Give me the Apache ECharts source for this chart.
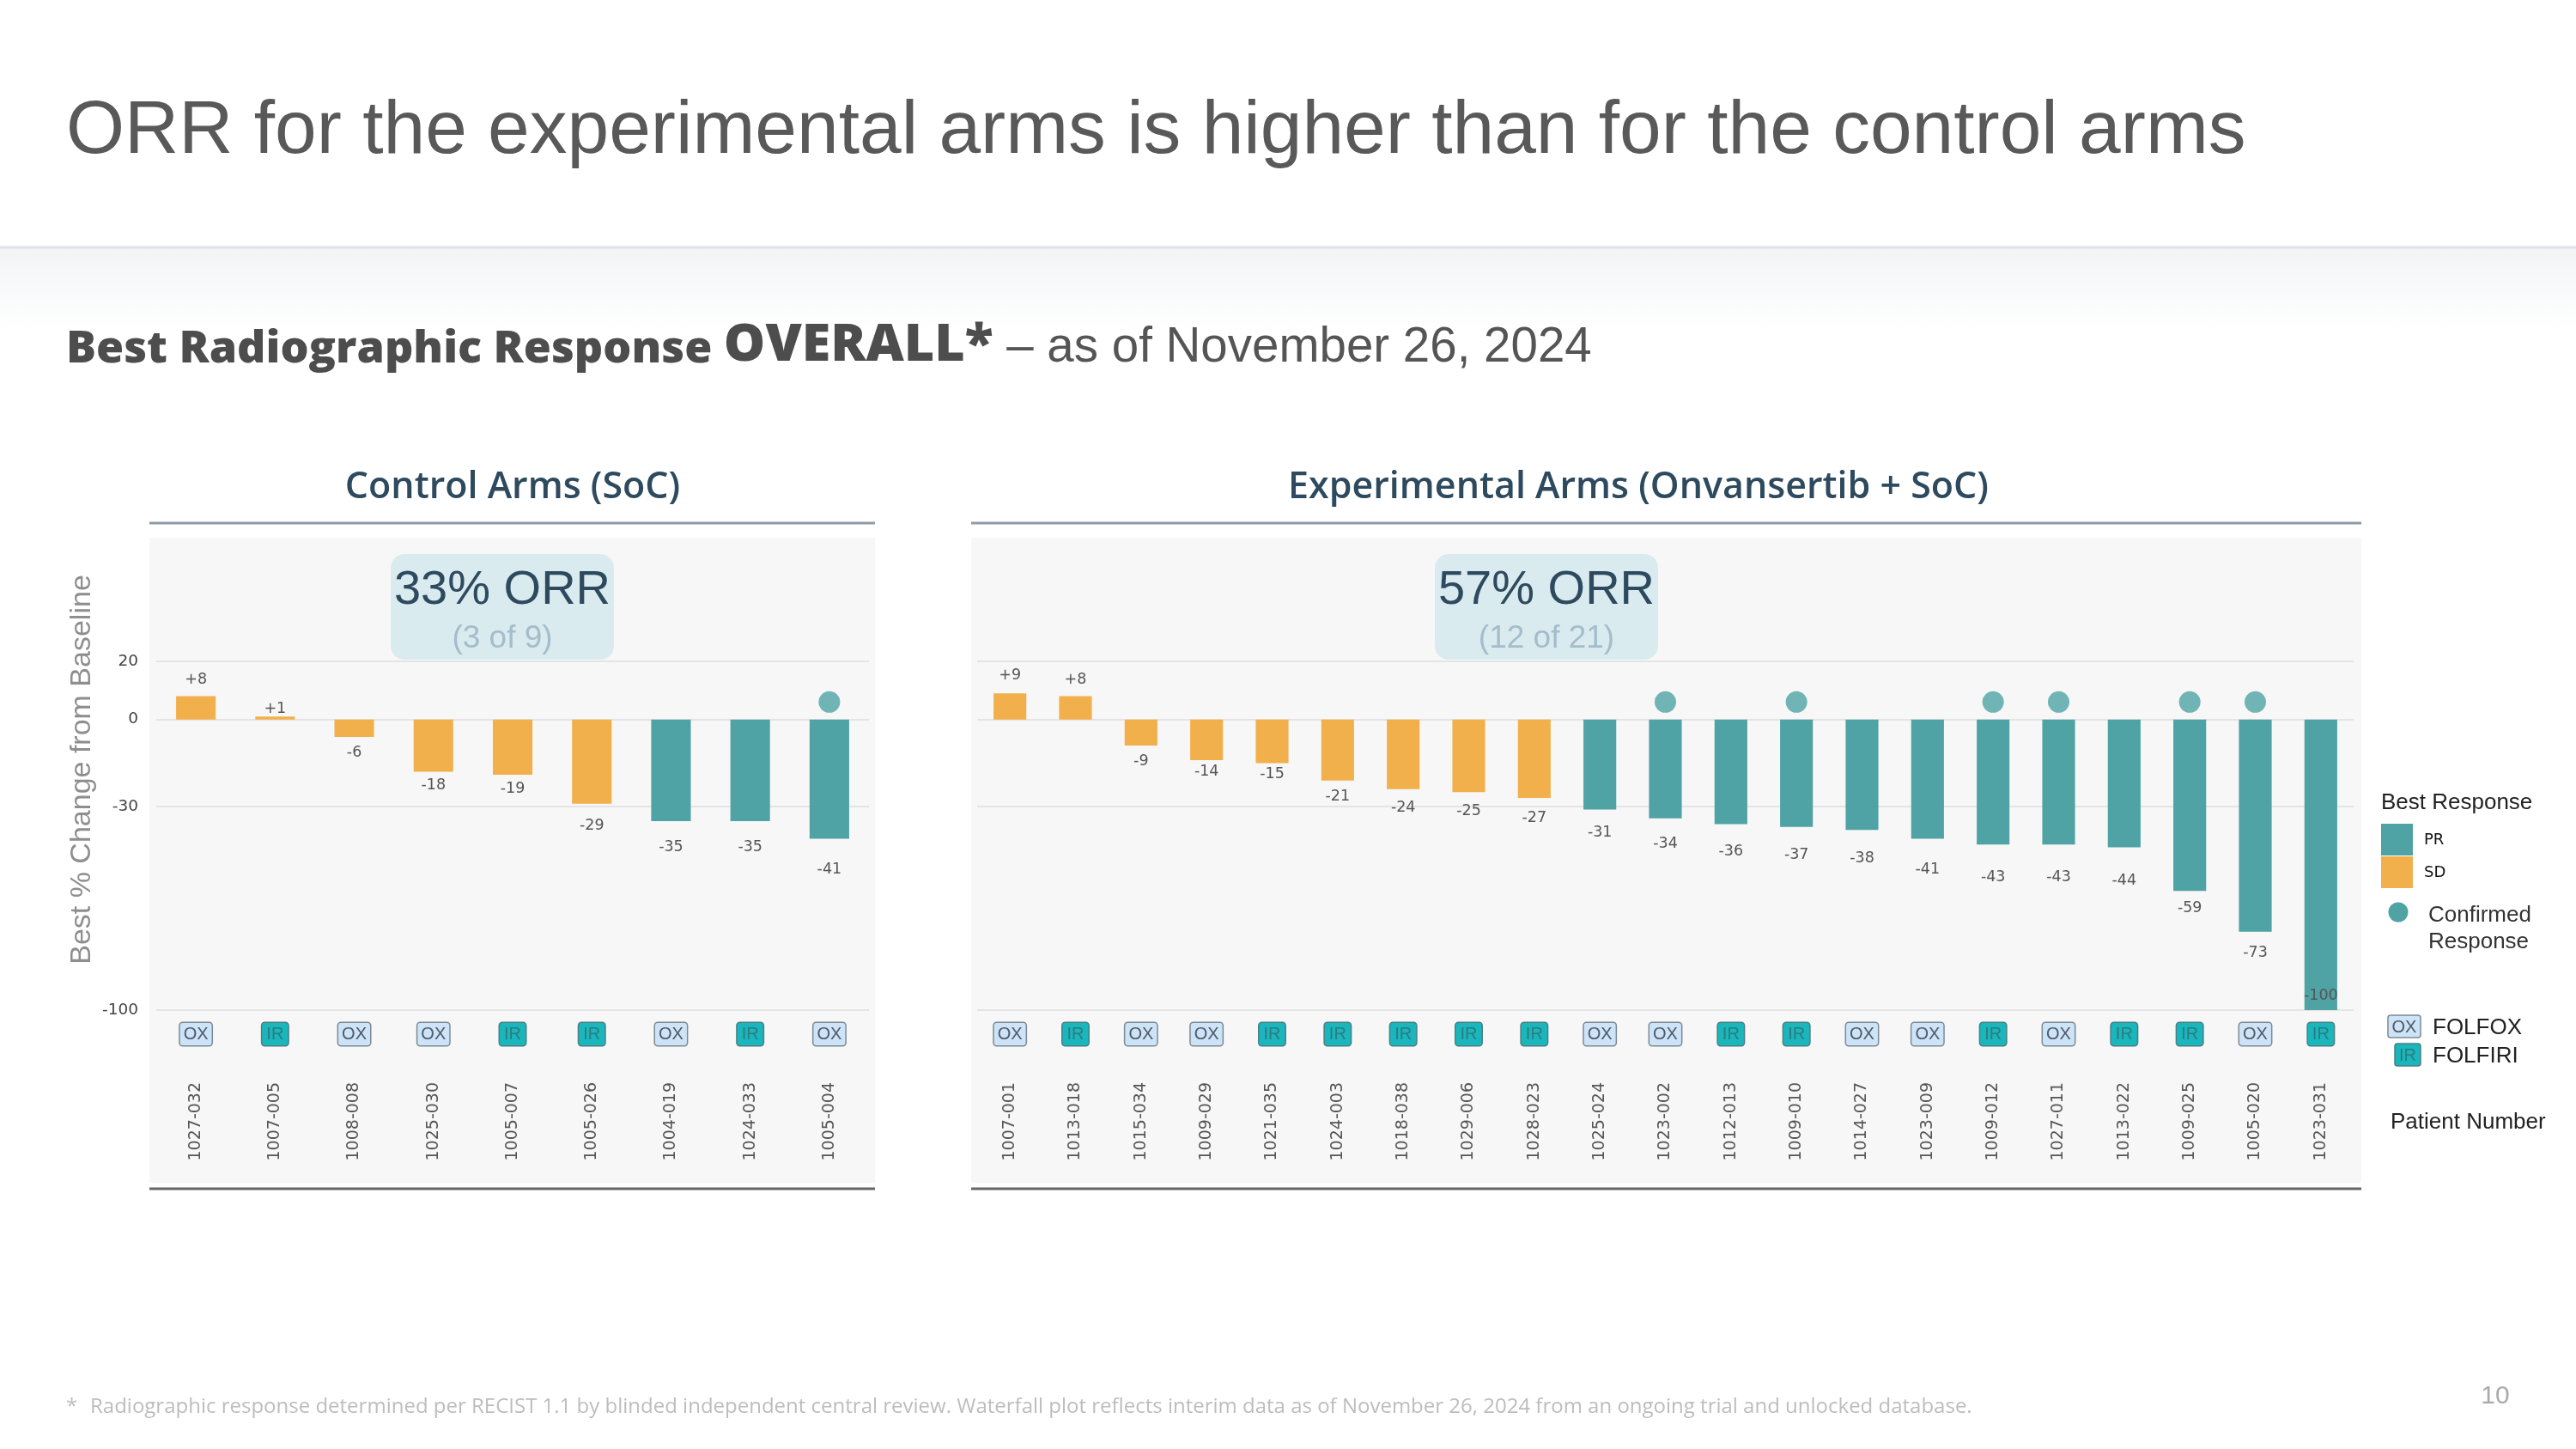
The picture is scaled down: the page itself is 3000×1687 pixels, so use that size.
<!DOCTYPE html>
<html><head><meta charset="utf-8">
<script src="https://cdn.jsdelivr.net/npm/echarts@6/dist/echarts.min.js"></script>
<style>html,body{margin:0;padding:0;background:#fff}#c{width:3000px;height:1687px}</style>
</head><body><div id="c"></div>
<script>
// ---------------- data ----------------
const controlPatients = ['1027-032','1007-005','1008-008','1025-030','1005-007','1005-026','1004-019','1024-033','1005-004'];
const controlValues   = [8, 1, -6, -18, -19, -29, -35, -35, -41];
const controlResponse = ['SD','SD','SD','SD','SD','SD','PR','PR','PR'];
const controlRegimen  = ['OX','IR','OX','OX','IR','IR','OX','IR','OX'];
const controlConfirmed = [0,0,0,0,0,0,0,0,1];

const expPatients = ['1007-001','1013-018','1015-034','1009-029','1021-035','1024-003','1018-038','1029-006','1028-023','1025-024','1023-002','1012-013','1009-010','1014-027','1023-009','1009-012','1027-011','1013-022','1009-025','1005-020','1023-031'];
const expValues   = [9, 8, -9, -14, -15, -21, -24, -25, -27, -31, -34, -36, -37, -38, -41, -43, -43, -44, -59, -73, -100];
const expResponse = ['SD','SD','SD','SD','SD','SD','SD','SD','SD','PR','PR','PR','PR','PR','PR','PR','PR','PR','PR','PR','PR'];
const expRegimen  = ['OX','IR','OX','OX','IR','IR','IR','IR','IR','OX','OX','IR','IR','OX','OX','IR','OX','IR','IR','OX','IR'];
const expConfirmed = [0,0,0,0,0,0,0,0,0,0,1,0,1,0,0,1,1,0,1,1,0];

const yTickValues = [20, 0, -30, -100];
const controlORR = ['33% ORR', '(3 of 9)'];
const expORR = ['57% ORR', '(12 of 21)'];

// ---------------- styles ----------------
const COLORS = { PR: '#4fa3a5', SD: '#f2b04d' };
const DOT_Y = 6;
const Y_MIN = -100, Y_MAX = 40;
const GRID_TOP = 702.33, GRID_BOTTOM = 1687 - 1176;

function labelDistance(v) {
  const a = Math.abs(v);
  if (v > 0) return Math.max(0, 1.7 * v - 3.5);
  if (a < 12) return 9;
  if (a <= 50) return Math.max(4, 0.88 * a - 9);
  return 0.34 * a - 9;
}
function barData(values, resp) {
  return values.map((v, i) => {
    const item = { value: v, itemStyle: { color: COLORS[resp[i]] } };
    if (v <= -100) item.label = { position: 'insideBottom', distance: 8 };
    else item.label = { position: 'outside', distance: labelDistance(v) };
    return item;
  });
}
const richBoxes = {
  ox: { backgroundColor: '#cde3f8', borderColor: '#7d8a94', borderWidth: 1.5, borderRadius: 3,
        padding: [3, 4, 3, 4], color: '#4f5b66', fontSize: 20, lineHeight: 20, fontFamily: 'Liberation Sans' },
  ir: { backgroundColor: '#19b6bc', borderColor: '#4d7f84', borderWidth: 1.5, borderRadius: 3,
        padding: [3, 5, 3, 5], color: '#2d7c82', fontSize: 20, lineHeight: 20, fontFamily: 'Liberation Sans' }
};

function xAxesFor(gridIndex, patients, regimen) {
  return [
    { type: 'category', gridIndex, data: patients, position: 'bottom', z: 10,
      axisLine: { show: false, onZero: false }, axisTick: { show: false },
      axisLabel: { interval: 0, margin: 18, formatter: (v, i) => regimen[i] === 'OX' ? '{ox|OX}' : '{ir|IR}', rich: richBoxes } },
    { type: 'category', gridIndex, data: patients, position: 'bottom', z: 10,
      axisLine: { show: false, onZero: false }, axisTick: { show: false },
      axisLabel: { interval: 0, rotate: 90, margin: 84, fontSize: 19, color: '#555', fontFamily: 'DejaVu Sans' } }
  ];
}
function yAxisFor(gridIndex, showLabels) {
  return { type: 'value', gridIndex, min: Y_MIN, max: Y_MAX, z: 10,
    axisLine: { show: false }, axisTick: { show: false }, splitLine: { show: false },
    axisLabel: { show: showLabels, customValues: yTickValues, margin: 21, fontSize: 18.5, color: '#444', fontFamily: 'DejaVu Sans',
      formatter: v => String(v) } };
}
function seriesFor(idx, values, resp, confirmed) {
  return [
    { type: 'line', xAxisIndex: idx * 2, yAxisIndex: idx, data: [], z: 1, silent: true,
      markLine: { silent: true, z: 1, symbol: 'none', label: { show: false },
        lineStyle: { color: '#e4e4e4', width: 2, type: 'solid' },
        data: yTickValues.map(v => ({ yAxis: v })) } },
    { type: 'bar', xAxisIndex: idx * 2, yAxisIndex: idx, barWidth: '50%', z: 3,
      data: barData(values, resp),
      label: { show: true, fontSize: 17.5, color: '#555', fontFamily: 'DejaVu Sans',
        formatter: p => (p.value > 0 ? '+' : '') + p.value } },
    { type: 'scatter', xAxisIndex: idx * 2, yAxisIndex: idx, z: 4, symbolSize: 25,
      itemStyle: { color: COLORS.PR },
      data: confirmed.map(c => c ? DOT_Y : '-') }
  ];
}

function orrBox(cx, texts) {
  return { type: 'group', z: 20, children: [
    { type: 'rect', shape: { x: cx - 130, y: 645, width: 260, height: 123, r: 16 }, style: { fill: '#daebef' } },
    { type: 'text', x: cx, y: 688, style: { text: texts[0], fill: '#2e4a5f', font: '56px "Liberation Sans"', align: 'center', verticalAlign: 'middle' } },
    { type: 'text', x: cx, y: 744, style: { text: texts[1], fill: '#a3bdca', font: '37px "Liberation Sans"', align: 'center', verticalAlign: 'middle' } }
  ] };
}
function txt(x, y, text, font, fill, align) {
  return { type: 'text', x, y, z: 20, style: { text, font, fill, align: align || 'left', verticalAlign: 'middle' } };
}

const graphic = [
  // header band
  { type: 'rect', z: -20, shape: { x: 0, y: 289, width: 3000, height: 95 },
    style: { fill: new echarts.graphic.LinearGradient(0, 0, 0, 1, [{ offset: 0, color: '#f2f4f6' }, { offset: 1, color: '#ffffff' }]) } },
  { type: 'line', z: -19, shape: { x1: 0, y1: 288, x2: 3000, y2: 288 }, style: { stroke: '#dde3e8', lineWidth: 3 } },
  txt(77, 154, 'ORR for the experimental arms is higher than for the control arms', '87.5px "Liberation Sans"', '#595959'),
  { type: 'text', x: 77, y: 403, z: 20, style: {
      text: '{b|Best Radiographic Response }{big|OVERALL*}{r| – as of November 26, 2024}',
      verticalAlign: 'middle',
      rich: {
        b: { font: '800 52px "Open Sans"', fill: '#4d4d4d', verticalAlign: 'bottom' },
        big: { font: '800 61px "Open Sans"', fill: '#4d4d4d', verticalAlign: 'bottom' },
        r: { font: '56.5px "Liberation Sans"', fill: '#555', verticalAlign: 'bottom' }
      } } },
  // panel headers
  txt(597, 568, 'Control Arms (SoC)', '600 43px "Open Sans"', '#2d4a5e', 'center'),
  txt(1908, 568, 'Experimental Arms (Onvansertib + SoC)', '600 43px "Open Sans"', '#2d4a5e', 'center'),
  { type: 'line', z: 5, shape: { x1: 174, y1: 609, x2: 1019, y2: 609 }, style: { stroke: '#8e9ca5', lineWidth: 3 } },
  { type: 'line', z: 5, shape: { x1: 1131, y1: 609, x2: 2750, y2: 609 }, style: { stroke: '#8e9ca5', lineWidth: 3 } },
  // plot backgrounds
  { type: 'rect', z: -10, shape: { x: 174, y: 626, width: 845, height: 751 }, style: { fill: '#f7f7f7' } },
  { type: 'rect', z: -10, shape: { x: 1131, y: 626, width: 1619, height: 751 }, style: { fill: '#f7f7f7' } },
  { type: 'line', z: 5, shape: { x1: 174, y1: 1384, x2: 1019, y2: 1384 }, style: { stroke: '#666', lineWidth: 3 } },
  { type: 'line', z: 5, shape: { x1: 1131, y1: 1384, x2: 2750, y2: 1384 }, style: { stroke: '#666', lineWidth: 3 } },
  // y axis title
  { type: 'text', x: 96, y: 896, rotation: Math.PI / 2, z: 20,
    style: { text: 'Best % Change from Baseline', font: '34px "Liberation Sans"', fill: '#8e8e8e', align: 'center', verticalAlign: 'middle' } },
  orrBox(585, controlORR),
  orrBox(1801, expORR),
  // legend
  txt(2773, 935, 'Best Response', '26px "Liberation Sans"', '#222'),
  { type: 'rect', z: 20, shape: { x: 2773, y: 959, width: 37, height: 37 }, style: { fill: COLORS.PR } },
  { type: 'rect', z: 20, shape: { x: 2773, y: 997, width: 37, height: 37 }, style: { fill: COLORS.SD } },
  txt(2823, 978, 'PR', '18px "DejaVu Sans"', '#111'),
  txt(2823, 1016, 'SD', '18px "DejaVu Sans"', '#111'),
  { type: 'circle', z: 20, shape: { cx: 2793, cy: 1062, r: 11.5 }, style: { fill: COLORS.PR } },
  txt(2828, 1066, 'Confirmed', '26px "Liberation Sans"', '#333'),
  txt(2828, 1097, 'Response', '26px "Liberation Sans"', '#333'),
  { type: 'rect', z: 20, shape: { x: 2781, y: 1182, width: 38, height: 26, r: 3 }, style: { fill: '#cde3f8', stroke: '#7d8a94', lineWidth: 1.5 } },
  txt(2800, 1196, 'OX', '20px "Liberation Sans"', '#4f5b66', 'center'),
  txt(2833, 1197, 'FOLFOX', '26px "Liberation Sans"', '#222'),
  { type: 'rect', z: 20, shape: { x: 2789, y: 1215, width: 30, height: 26, r: 3 }, style: { fill: '#19b6bc', stroke: '#4d7f84', lineWidth: 1.5 } },
  txt(2804, 1229, 'IR', '20px "Liberation Sans"', '#2d7c82', 'center'),
  txt(2833, 1230, 'FOLFIRI', '26px "Liberation Sans"', '#222'),
  txt(2784, 1307, 'Patient Number', '26px "Liberation Sans"', '#222'),
  // footer
  txt(77, 1638, '*', '24px "Open Sans"', '#bdbdbd'),
  txt(105, 1638, 'Radiographic response determined per RECIST 1.1 by blinded independent central review. Waterfall plot reflects interim data as of November 26, 2024 from an ongoing trial and unlocked database.', '24px "Open Sans"', '#bdbdbd'),
  txt(2906, 1626, '10', '30px "Liberation Sans"', '#aaa', 'center')
];

const chart = echarts.init(document.getElementById('c'), null, { renderer: 'canvas' });
chart.setOption({
  animation: false,
  backgroundColor: '#ffffff',
  grid: [
    { left: 182, width: 830, top: GRID_TOP, bottom: GRID_BOTTOM, containLabel: false },
    { left: 1138, width: 1603, top: GRID_TOP, bottom: GRID_BOTTOM, containLabel: false }
  ],
  xAxis: [...xAxesFor(0, controlPatients, controlRegimen), ...xAxesFor(1, expPatients, expRegimen)],
  yAxis: [yAxisFor(0, true), yAxisFor(1, false)],
  series: [...seriesFor(0, controlValues, controlResponse, controlConfirmed),
           ...seriesFor(1, expValues, expResponse, expConfirmed)],
  graphic
});
</script></body></html>
